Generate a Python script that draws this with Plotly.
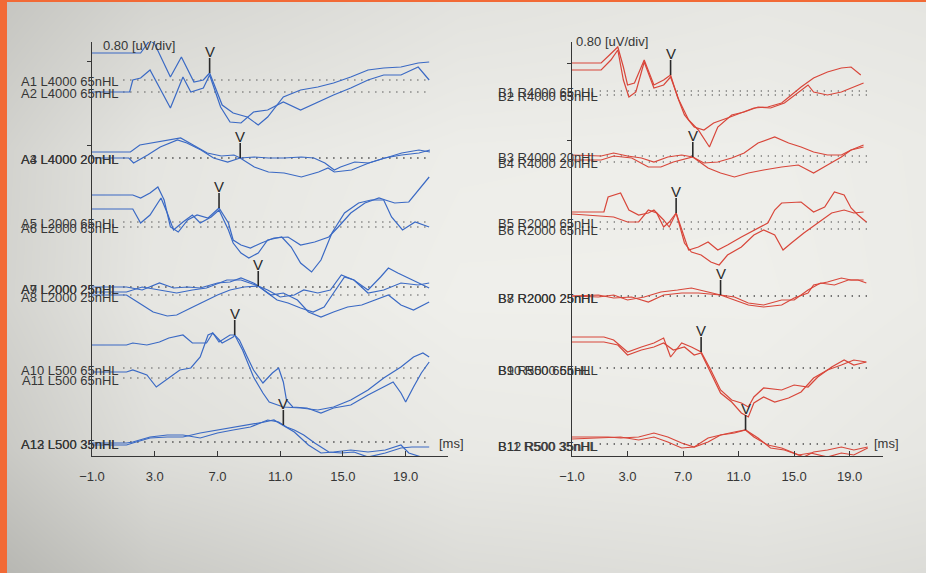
import numpy as np
import plotly.graph_objects as go

# ---------------------------------------------------------------------------
# ABR recordings: latency (ms) and amplitude (uV, relative to each baseline)
# ---------------------------------------------------------------------------
# Left ear (A traces)
A1_ms = [-1.0, 2.1, 2.7, 3.0, 4.0, 4.7, 5.5, 6.1, 6.5, 7.3, 8.0, 8.9, 9.6, 10.2, 11.2, 12.3, 13.4, 14.4, 15.5, 16.6, 17.6, 18.7, 19.8, 20.5]
A1_uv = [0.27, 0.27, 0.40, 0.36, 0.03, 0.23, -0.02, 0.00, 0.07, -0.25, -0.33, -0.37, -0.45, -0.37, -0.17, -0.10, -0.07, -0.03, 0.03, 0.10, 0.12, 0.13, 0.17, 0.18]
A2_ms = [-1.0, 1.4, 1.6, 2.1, 2.7, 4.0, 4.8, 5.3, 6.1, 6.5, 7.2, 7.8, 8.5, 9.3, 10.2, 11.2, 12.3, 13.4, 14.4, 15.5, 16.6, 17.6, 18.7, 19.8, 20.5]
A2_uv = [0.00, 0.00, 0.12, 0.14, 0.22, -0.16, 0.15, 0.00, 0.04, 0.17, -0.15, -0.30, -0.31, -0.20, -0.18, -0.10, -0.18, -0.10, -0.03, 0.04, 0.12, 0.17, 0.17, 0.25, 0.12]
A3_ms = [-1.0, 1.45, 2.05, 3.15, 3.95, 4.65, 5.45, 6.35, 7.25, 8.05, 8.45, 9.35, 10.25, 11.25, 12.35, 13.45, 14.05, 14.45, 15.55, 16.65, 17.65, 18.75, 19.85, 20.55]
A3_uv = [0.06, 0.06, 0.13, 0.16, 0.18, 0.20, 0.13, 0.05, 0.02, 0.03, 0.00, -0.09, -0.14, -0.15, -0.19, -0.14, -0.10, -0.14, -0.12, -0.05, 0.00, 0.03, 0.05, 0.08]
A4_ms = [-1.0, 1.35, 1.65, 2.55, 3.35, 4.45, 5.05, 5.95, 6.75, 7.65, 8.45, 9.35, 10.25, 11.25, 12.35, 13.15, 13.85, 14.45, 14.85, 15.75, 16.65, 17.65, 18.75, 19.85, 20.55]
A4_uv = [0.00, 0.00, -0.05, 0.03, 0.11, 0.18, 0.15, 0.08, 0.00, -0.04, 0.00, 0.01, 0.00, 0.00, 0.01, 0.00, -0.05, -0.12, -0.09, -0.04, -0.05, 0.00, 0.05, 0.08, 0.06]
A5_ms = [-1.0, 1.6, 2.1, 2.7, 3.2, 3.6, 4.0, 4.5, 5.1, 5.7, 6.4, 7.1, 7.7, 8.0, 8.5, 9.1, 9.8, 10.6, 11.5, 12.3, 13.2, 14.1, 14.7, 15.5, 16.4, 17.3, 17.7, 18.3, 19.2, 20.0, 20.5]
A5_uv = [0.27, 0.27, 0.24, 0.29, 0.35, 0.22, -0.05, -0.10, 0.02, 0.07, 0.04, 0.14, -0.01, -0.18, -0.23, -0.26, -0.21, -0.16, -0.15, -0.23, -0.20, -0.15, -0.05, 0.09, 0.19, 0.24, 0.22, 0.19, 0.20, 0.35, 0.45]
A6_ms = [-1.0, 1.6, 2.1, 2.7, 3.4, 3.8, 4.2, 4.8, 5.4, 5.9, 6.6, 7.1, 7.7, 8.0, 8.5, 9.0, 9.6, 10.2, 11.1, 11.7, 12.3, 13.0, 13.6, 14.3, 15.1, 16.0, 16.8, 17.6, 18.1, 18.8, 19.6, 20.5]
A6_uv = [0.18, 0.18, 0.04, 0.12, 0.29, 0.14, -0.03, 0.05, 0.12, 0.04, 0.10, 0.17, -0.03, -0.16, -0.26, -0.31, -0.26, -0.13, -0.10, -0.20, -0.36, -0.45, -0.33, -0.06, 0.14, 0.24, 0.27, 0.27, 0.10, -0.03, 0.05, 0.00]
A7_ms = [-1.0, 1.2, 2.2, 3.3, 4.2, 5.1, 5.9, 7.0, 7.8, 8.5, 9.3, 9.6, 10.2, 10.8, 11.5, 12.3, 13.1, 13.8, 14.4, 15.1, 15.7, 16.6, 17.4, 17.9, 18.5, 19.4, 20.5]
A7_uv = [0.00, 0.00, -0.03, 0.04, -0.01, 0.00, -0.01, 0.04, 0.05, 0.09, 0.04, 0.01, -0.06, -0.13, -0.16, -0.21, -0.25, -0.20, -0.06, 0.10, 0.07, -0.03, 0.10, 0.19, 0.14, 0.07, -0.01]
A8_ms = [-1.0, 1.2, 2.0, 2.9, 3.8, 4.4, 5.3, 6.1, 7.0, 7.8, 8.7, 9.6, 10.2, 11.0, 11.9, 12.5, 13.4, 14.2, 14.9, 15.7, 16.6, 17.6, 18.7, 19.8, 20.5]
A8_uv = [0.00, 0.00, -0.08, -0.17, -0.21, -0.20, -0.13, -0.07, 0.00, 0.05, 0.08, 0.09, 0.05, -0.02, 0.00, 0.05, 0.02, 0.05, 0.20, 0.15, 0.02, 0.05, 0.12, 0.10, 0.12]
A9_ms = [-1.0, 1.2, 2.2, 3.3, 4.4, 5.4, 6.3, 7.6, 8.5, 9.6, 10.4, 11.2, 12.1, 12.8, 13.6, 14.4, 15.3, 16.2, 17.0, 17.9, 18.7, 19.5, 20.5]
A9_uv = [-0.05, -0.05, 0.00, -0.03, -0.06, -0.03, -0.01, 0.07, 0.07, 0.01, -0.08, -0.06, -0.13, -0.25, -0.30, -0.25, -0.20, -0.18, -0.13, -0.08, -0.18, -0.23, -0.15]
A10_ms = [-1.0, 1.2, 1.6, 2.5, 3.3, 3.9, 4.8, 5.4, 6.3, 6.7, 7.1, 7.8, 8.1, 8.4, 8.9, 9.3, 9.9, 10.5, 10.9, 11.2, 11.4, 11.8, 12.7, 13.6, 14.4, 15.5, 16.6, 17.6, 18.2, 18.7, 19.0, 19.5, 20.0, 20.5]
A10_uv = [0.23, 0.23, 0.25, 0.23, 0.26, 0.30, 0.33, 0.25, 0.25, 0.35, 0.26, 0.33, 0.33, 0.28, 0.11, -0.02, -0.15, -0.05, 0.00, -0.14, -0.32, -0.39, -0.40, -0.45, -0.40, -0.37, -0.27, -0.19, -0.14, -0.25, -0.34, -0.19, -0.05, 0.06]
A11_ms = [-1.0, 1.2, 1.6, 2.5, 3.1, 3.7, 4.6, 5.3, 5.9, 6.4, 6.7, 7.3, 8.0, 8.1, 8.6, 9.3, 9.9, 10.3, 11.2, 12.3, 13.4, 14.4, 15.5, 16.6, 17.6, 18.7, 19.5, 20.1, 20.5]
A11_uv = [0.06, 0.06, 0.08, 0.03, -0.09, -0.02, 0.08, 0.10, 0.21, 0.43, 0.45, 0.35, 0.41, 0.43, 0.28, 0.01, -0.15, -0.24, -0.29, -0.30, -0.32, -0.29, -0.22, -0.12, 0.00, 0.11, 0.21, 0.25, 0.21]
A12_ms = [-1.0, 1.2, 1.6, 2.7, 3.8, 4.8, 5.9, 7.0, 8.0, 9.1, 10.2, 10.9, 11.4, 11.9, 12.5, 13.2, 14.1, 14.9, 15.7, 16.6, 17.7, 18.7, 19.4, 20.5]
A12_uv = [-0.01, -0.01, 0.00, 0.05, 0.07, 0.07, 0.04, 0.09, 0.12, 0.15, 0.22, 0.20, 0.15, 0.12, 0.07, -0.01, -0.10, -0.11, -0.10, -0.15, -0.11, -0.06, -0.05, -0.05]
A13_ms = [-1.0, 1.2, 1.6, 2.7, 3.8, 4.8, 5.9, 7.0, 8.0, 9.1, 10.0, 10.6, 11.4, 11.9, 12.8, 13.6, 14.4, 15.5, 16.6, 17.7, 18.7, 19.2, 20.0, 20.5]
A13_uv = [-0.03, -0.03, -0.01, 0.04, 0.05, 0.05, 0.09, 0.12, 0.14, 0.17, 0.20, 0.22, 0.15, 0.10, -0.03, -0.11, -0.10, -0.08, -0.10, -0.08, -0.03, -0.11, -0.15, -0.15]

# Right ear (B traces)
B1_ms = [-1.0, 1.1, 1.7, 2.3, 2.7, 3.0, 3.5, 4.2, 4.9, 5.6, 6.1, 6.6, 7.1, 7.8, 8.5, 9.2, 10.2, 11.2, 12.1, 13.1, 14.1, 14.8, 15.5, 16.4, 17.4, 18.4, 19.1, 19.8]
B1_uv = [0.28, 0.28, 0.36, 0.44, 0.24, 0.06, 0.08, 0.31, 0.06, 0.11, 0.16, -0.06, -0.24, -0.36, -0.39, -0.32, -0.27, -0.22, -0.17, -0.16, -0.12, -0.04, 0.04, 0.13, 0.19, 0.23, 0.24, 0.16]
B2_ms = [-1.0, 1.1, 1.8, 2.3, 2.7, 3.1, 3.6, 4.2, 4.9, 5.6, 6.1, 6.7, 7.4, 8.1, 8.9, 9.5, 10.5, 11.4, 12.4, 13.3, 14.3, 15.3, 16.0, 16.4, 17.4, 18.4, 19.1, 20.0]
B2_uv = [0.25, 0.25, 0.35, 0.45, 0.15, -0.02, 0.03, 0.33, 0.07, 0.10, 0.18, -0.05, -0.25, -0.35, -0.52, -0.32, -0.20, -0.17, -0.12, -0.13, -0.08, 0.03, 0.10, 0.03, 0.00, 0.03, 0.07, 0.12]
B3_ms = [-1.0, 1.1, 2.0, 3.0, 4.0, 4.9, 5.9, 6.9, 7.7, 8.5, 9.5, 10.5, 11.4, 12.4, 13.6, 14.6, 15.5, 16.4, 17.4, 18.4, 19.1, 20.0]
B3_uv = [0.01, 0.00, 0.03, 0.00, -0.02, -0.06, -0.01, 0.01, -0.01, -0.07, -0.06, -0.02, 0.03, 0.13, 0.19, 0.13, 0.09, 0.04, 0.01, 0.01, 0.06, 0.11]
B4_ms = [-1.0, 1.1, 2.0, 3.3, 4.5, 5.4, 6.3, 7.7, 8.8, 9.7, 10.7, 11.7, 12.8, 14.1, 15.3, 16.4, 17.4, 18.4, 19.1, 20.0]
B4_uv = [0.02, 0.02, 0.06, 0.04, -0.05, -0.05, 0.00, 0.05, -0.06, -0.11, -0.15, -0.11, -0.08, -0.05, -0.03, -0.11, -0.03, 0.05, 0.12, 0.15]
B5_ms = [-1.0, 1.3, 1.6, 2.5, 3.1, 3.8, 4.5, 4.9, 5.6, 6.0, 6.5, 6.9, 7.4, 8.1, 8.8, 9.5, 10.2, 11.2, 12.1, 13.1, 13.6, 14.1, 15.5, 16.4, 17.2, 17.9, 18.6, 19.1, 19.6, 20.2]
B5_uv = [0.10, 0.10, 0.25, 0.29, 0.12, 0.07, 0.09, 0.12, 0.02, -0.05, 0.09, -0.08, -0.28, -0.25, -0.20, -0.28, -0.23, -0.15, -0.08, -0.01, 0.12, 0.19, 0.20, 0.10, 0.15, 0.30, 0.27, 0.14, 0.07, 0.00]
B6_ms = [-1.0, 1.1, 2.0, 3.0, 3.8, 4.5, 5.1, 5.6, 6.0, 6.5, 7.1, 7.6, 8.3, 9.0, 9.6, 10.2, 11.2, 12.1, 12.8, 13.6, 14.2, 14.8, 15.7, 16.7, 17.7, 18.6, 19.3, 20.0]
B6_uv = [0.15, 0.13, 0.12, 0.07, 0.07, 0.19, 0.16, 0.02, 0.07, 0.16, -0.14, -0.23, -0.26, -0.33, -0.36, -0.26, -0.18, -0.06, -0.01, -0.06, -0.21, -0.14, -0.04, 0.06, 0.16, 0.19, 0.16, 0.17]
B7_ms = [-1.0, 0.9, 2.0, 3.0, 4.2, 5.4, 6.6, 7.6, 8.8, 9.7, 10.7, 11.7, 12.8, 14.1, 15.0, 16.0, 16.4, 17.4, 18.4, 19.1, 20.0]
B7_uv = [0.00, -0.01, 0.01, -0.04, -0.01, 0.04, 0.06, 0.08, 0.04, 0.01, -0.04, -0.09, -0.11, -0.09, -0.02, 0.03, 0.11, 0.14, 0.18, 0.16, 0.16]
B8_ms = [-1.0, 0.9, 2.0, 3.3, 4.5, 5.6, 6.9, 8.1, 9.7, 10.7, 11.7, 12.8, 14.1, 15.0, 16.0, 16.9, 17.9, 18.9, 19.6, 20.2]
B8_uv = [0.00, 0.01, -0.02, -0.01, -0.06, 0.01, 0.03, 0.03, 0.01, -0.01, -0.07, -0.09, -0.04, -0.04, 0.06, 0.13, 0.11, 0.16, 0.16, 0.13]
B9_ms = [-1.0, 1.3, 2.0, 3.0, 4.0, 4.9, 5.6, 6.1, 6.9, 7.6, 8.3, 9.0, 9.7, 10.5, 11.2, 11.7, 12.1, 12.8, 14.1, 15.0, 16.0, 16.7, 17.7, 18.6, 19.3, 20.2]
B9_uv = [0.31, 0.31, 0.28, 0.16, 0.21, 0.25, 0.30, 0.11, 0.25, 0.21, 0.16, -0.02, -0.22, -0.32, -0.35, -0.39, -0.29, -0.20, -0.22, -0.17, -0.19, -0.09, 0.01, 0.08, 0.03, 0.06]
B10_ms = [-1.0, 1.3, 2.3, 3.0, 4.0, 4.9, 5.6, 6.3, 7.1, 7.8, 8.3, 9.0, 9.7, 10.5, 11.2, 11.7, 12.1, 12.8, 13.6, 14.6, 15.5, 16.4, 17.4, 18.4, 19.3, 20.2]
B10_uv = [0.26, 0.26, 0.23, 0.13, 0.18, 0.21, 0.25, 0.18, 0.21, 0.13, 0.15, -0.05, -0.25, -0.34, -0.45, -0.49, -0.35, -0.29, -0.34, -0.30, -0.24, -0.10, -0.02, 0.03, 0.08, 0.06]
B11_ms = [-1.0, 1.6, 2.5, 3.8, 4.9, 5.9, 6.9, 7.8, 8.8, 9.7, 10.7, 11.5, 12.1, 13.1, 14.1, 15.0, 15.7, 16.4, 17.4, 18.4, 19.3, 20.3]
B11_uv = [0.07, 0.07, 0.06, 0.07, 0.11, 0.07, 0.01, -0.03, 0.02, 0.09, 0.12, 0.14, 0.07, -0.01, -0.04, -0.09, -0.13, -0.08, -0.06, -0.03, -0.06, -0.03]
B12_ms = [-1.0, 1.6, 2.5, 3.8, 4.9, 5.9, 6.9, 7.8, 8.8, 9.7, 10.7, 11.5, 12.4, 13.3, 14.3, 15.3, 16.2, 17.4, 18.4, 19.3, 20.3]
B12_uv = [0.05, 0.06, 0.07, 0.04, 0.07, 0.02, -0.04, -0.03, 0.06, 0.09, 0.11, 0.14, 0.06, -0.04, -0.06, -0.11, -0.09, -0.13, -0.09, -0.11, -0.04]

# Recording names, printed at each trace baseline
left_names = ["A1 L4000 65nHL", "A2 L4000 65nHL", "A3 L4000 20nHL", "A4 L4000 20nHL",
              "A5 L2000 65nHL", "A6 L2000 65nHL", "A7 L2000 25nHL", "A8 L2000 25nHL",
              "A9 L2000 25nHL", "A10 L500 65nHL", "A11 L500 65nHL", "A12 L500 35nHL",
              "A13 L500 35nHL"]
right_names = ["B1 R4000 65nHL", "B2 R4000 65nHL", "B3 R4000 20nHL", "B4 R4000 20nHL",
               "B5 R2000 65nHL", "B6 R2000 65nHL", "B7 R2000 25nHL", "B8 R2000 25nHL",
               "B9 R500 65nHL", "B10 R500 65nHL", "B11 R500 35nHL", "B12 R500 35nHL"]

left_ms = [A1_ms, A2_ms, A3_ms, A4_ms, A5_ms, A6_ms, A7_ms, A8_ms, A9_ms, A10_ms, A11_ms, A12_ms, A13_ms]
left_uv = [A1_uv, A2_uv, A3_uv, A4_uv, A5_uv, A6_uv, A7_uv, A8_uv, A9_uv, A10_uv, A11_uv, A12_uv, A13_uv]
right_ms = [B1_ms, B2_ms, B3_ms, B4_ms, B5_ms, B6_ms, B7_ms, B8_ms, B9_ms, B10_ms, B11_ms, B12_ms]
right_uv = [B1_uv, B2_uv, B3_uv, B4_uv, B5_uv, B6_uv, B7_uv, B8_uv, B9_uv, B10_uv, B11_uv, B12_uv]

# Vertical stacking offset of each trace baseline (uV above the time axis)
left_offset_uv = [3.76, 3.64, 2.98, 2.98, 2.34, 2.29, 1.69, 1.61, 1.69, 0.88, 0.78, 0.14, 0.14]
right_offset_uv = [3.65, 3.61, 3.00, 2.94, 2.34, 2.27, 1.60, 1.60, 0.88, 0.88, 0.12, 0.12]

# Wave V picks: (trace index, latency in ms)
left_wave_v = [(0, 6.5), (2, 8.45), (4, 7.1), (6, 9.6), (9, 8.1), (11, 11.2)]
right_wave_v = [(0, 6.1), (2, 7.7), (4, 6.5), (6, 9.7), (8, 8.3), (10, 11.5)]

tick_ms = [-1.0, 3.0, 7.0, 11.0, 15.0, 19.0]
scale_text = "0.80 [uV/div]"
unit_text = "[ms]"

# ---------------------------------------------------------------------------
# Styling
# ---------------------------------------------------------------------------
W, H = 926, 573
FONT = "Liberation Sans, Arial, sans-serif"
INK = "#363636"
BLUE = "#3a69c4"
RED = "#d8463a"
ORANGE = "#f26a36"

# soft grey paper shading behind the printout (grid extends past the edges)
shade_x = [-60, 150, 460, 760, 986]
shade_y = [-60, 150, 300, 450, 633]
shade_z = [
    [186, 206, 222, 228, 226],
    [202, 229, 237, 238, 234],
    [203, 230, 239, 239, 234],
    [192, 222, 233, 235, 229],
    [166, 192, 212, 217, 214],
]


def px_x(p):
    return p / W


def px_y(p):
    return (H - p) / H


fig = go.Figure()
fig.add_trace(go.Heatmap(
    x=shade_x, y=shade_y, z=shade_z, zsmooth="best", showscale=False,
    colorscale=[[0, "rgb(160,160,155)"], [1, "rgb(244,244,240)"]],
    zmin=160, zmax=244, hoverinfo="skip", xaxis="x", yaxis="y"))

panels = [
    dict(names=left_names, ms=left_ms, uv=left_uv, off=left_offset_uv,
         waves=left_wave_v, color=BLUE, xa="x2", ya="y2",
         label_x=px_x(121), label_anchor="right", dots=(1.0, 20.5),
         unit_x=px_x(437), scale_x=px_x(101), scale_y=4.10),
    dict(names=right_names, ms=right_ms, uv=right_uv, off=right_offset_uv,
         waves=right_wave_v, color=RED, xa="x3", ya="y3",
         label_x=px_x(496), label_anchor="left", dots=(1.0, 20.3),
         unit_x=px_x(872), scale_x=px_x(574), scale_y=4.14),
]

for p in panels:
    for name, ms, uv, off in zip(p["names"], p["ms"], p["uv"], p["off"]):
        fig.add_shape(type="line", xref=p["xa"], yref=p["ya"],
                      x0=p["dots"][0], x1=p["dots"][1], y0=off, y1=off,
                      line=dict(color="#5a5a5a", width=1.4, dash="1px,6px"),
                      layer="below")
        fig.add_trace(go.Scatter(
            x=ms, y=np.asarray(uv) + off, mode="lines",
            line=dict(color=p["color"], width=1.2),
            xaxis=p["xa"], yaxis=p["ya"], hoverinfo="skip"))
        fig.add_annotation(text=name, xref="paper", yref=p["ya"],
                           x=p["label_x"], y=off, xanchor=p["label_anchor"],
                           yanchor="middle", yshift=-2, showarrow=False,
                           font=dict(family=FONT, size=13, color=INK))
    # wave V markers: a short stem rising from the trace with a "V" on top
    for idx, lat in p["waves"]:
        yv = float(np.interp(lat, p["ms"][idx], p["uv"][idx])) + p["off"][idx]
        fig.add_shape(type="line", xref=p["xa"], yref=p["ya"],
                      x0=lat, x1=lat, y0=yv, y1=yv + 0.15,
                      line=dict(color="#2a2a2a", width=1.6))
        fig.add_annotation(text="V", xref=p["xa"], yref=p["ya"], x=lat,
                           y=yv + 0.15, xanchor="center", yanchor="bottom",
                           yshift=-4, showarrow=False,
                           font=dict(family=FONT, size=15, color="#2a2a2a"))
    fig.add_annotation(text=unit_text, xref="paper", yref=p["ya"],
                       x=p["unit_x"], y=0.13, xanchor="left", yanchor="middle",
                       showarrow=False, font=dict(family=FONT, size=13, color=INK))
    fig.add_annotation(text=scale_text, xref="paper", yref=p["ya"],
                       x=p["scale_x"], y=p["scale_y"], xanchor="left",
                       yanchor="middle", showarrow=False,
                       font=dict(family=FONT, size=13, color=INK))

# orange edges of the photo
fig.add_shape(type="rect", xref="paper", yref="paper", x0=0, x1=px_x(7),
              y0=0, y1=1, line=dict(width=0), fillcolor=ORANGE)
fig.add_shape(type="rect", xref="paper", yref="paper", x0=0, x1=1,
              y0=px_y(2), y1=1, line=dict(width=0), fillcolor=ORANGE)

y_dom = [px_y(456), px_y(42)]
axis_common = dict(showgrid=False, zeroline=False, showline=True, automargin=False,
                   linecolor=INK, linewidth=1.3, tickcolor=INK)
x_common = dict(axis_common, ticks="inside", ticklen=5, tickwidth=1.2,
                tickvals=tick_ms, tickformat=".1f", ticklabelstandoff=8,
                tickfont=dict(family=FONT, size=13, color=INK))
y_common = dict(axis_common, range=[0, 4.14], domain=y_dom, ticks="outside",
                ticklen=4, tickwidth=1.2, showticklabels=False)

fig.update_layout(
    width=W, height=H,
    margin=dict(l=0, r=0, t=0, b=0, pad=0, autoexpand=False),
    paper_bgcolor="#e2e2de", plot_bgcolor="rgba(0,0,0,0)",
    showlegend=False, hovermode=False,
    xaxis=dict(domain=[0, 1], range=[0, W], visible=False, fixedrange=True, automargin=False),
    yaxis=dict(domain=[0, 1], range=[H, 0], visible=False, fixedrange=True, automargin=False),
    xaxis2=dict(x_common, domain=[px_x(92), px_x(448)], range=[-1, 21.7], anchor="y2"),
    yaxis2=dict(y_common, tickvals=[3.95, 3.11], anchor="x2"),
    xaxis3=dict(x_common, domain=[px_x(572), px_x(883)], range=[-1, 21.4], anchor="y3"),
    yaxis3=dict(y_common, tickvals=[3.93, 3.16], anchor="x3"),
)

fig.write_html("out.html")
